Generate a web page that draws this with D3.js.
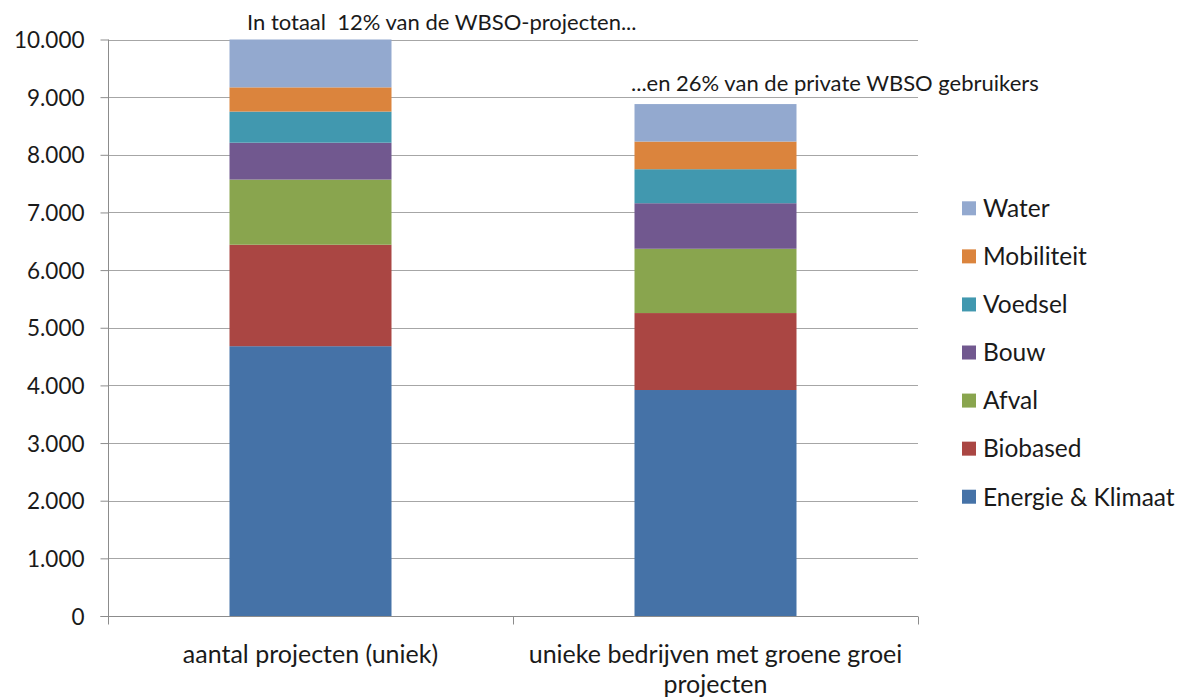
<!DOCTYPE html>
<html>
<head>
<meta charset="utf-8">
<script src="https://cdn.jsdelivr.net/npm/d3@7"></script>
<style>
  html, body { margin: 0; padding: 0; background: #fff; }
  svg text { font-family: Lato, "Open Sans", sans-serif; fill: #1a1a1a; }
</style>
</head>
<body>
<svg id="chart" width="1184" height="697"></svg>
<script>
// Data
const categories = ["aantal projecten (uniek)", "unieke bedrijven met groene groei projecten"];
const categoryLines = [["aantal projecten (uniek)"], ["unieke bedrijven met groene groei", "projecten"]];
const seriesNames = ["Energie & Klimaat", "Biobased", "Afval", "Bouw", "Voedsel", "Mobiliteit", "Water"];
const energie    = [4680, 3920];
const biobased   = [1760, 1335];
const afval      = [1130, 1115];
const bouw       = [640, 790];
const voedsel    = [540, 590];
const mobiliteit = [420, 480];
const water      = [830, 650];
const yTicks = [0, 1000, 2000, 3000, 4000, 5000, 6000, 7000, 8000, 9000, 10000];
const annotations = ["In totaal  12% van de WBSO-projecten...", "...en 26% van de private WBSO gebruikers"];
const colors = ["#4572A7", "#AA4643", "#89A54E", "#71588F", "#4198AF", "#DB843D", "#93A9CF"];

const seriesValues = [energie, biobased, afval, bouw, voedsel, mobiliteit, water];
const rows = categories.map((c, i) => {
  const r = { cat: c };
  seriesNames.forEach((s, j) => r[s] = seriesValues[j][i]);
  return r;
});

const svg = d3.select("#chart");
const plot = { left: 108, right: 918, top: 39.5, bottom: 616 };

const x = d3.scaleBand().domain(categories).range([plot.left, plot.right]).paddingInner(0.6).paddingOuter(0.3);
const y = d3.scaleLinear().domain([0, 10000]).range([plot.bottom, plot.top]);

// gridlines
svg.append("g").selectAll("line").data(yTicks.filter(d => d > 0)).join("line")
  .attr("x1", plot.left).attr("x2", plot.right)
  .attr("y1", d => Math.round(y(d)) + 0.5).attr("y2", d => Math.round(y(d)) + 0.5)
  .attr("stroke", "#a6a6a6").attr("stroke-width", 1);

// stacked bars
const stack = d3.stack().keys(seriesNames)(rows);
svg.append("g").selectAll("g").data(stack).join("g")
  .attr("fill", (d, i) => colors[i])
  .selectAll("rect").data(d => d).join("rect")
  .attr("x", d => x(d.data.cat))
  .attr("width", x.bandwidth())
  .attr("y", d => y(d[1]))
  .attr("height", d => y(d[0]) - y(d[1]));

// y axis
const yAxis = d3.axisLeft(y).tickValues(yTicks).tickSize(8).tickPadding(16)
  .tickFormat(d => d3.format(",")(d).replace(/,/g, "."));
const ya = svg.append("g").attr("transform", `translate(${plot.left + 0.5},0)`).call(yAxis);
ya.select(".domain").attr("stroke", "#8c8c8c").attr("d", `M-8,${plot.bottom}.5H0V${plot.top}`);
ya.selectAll(".tick line").attr("stroke", "#8c8c8c");
ya.selectAll(".tick text").style("font-size", "22.5px").style("font-family", "Lato, sans-serif").attr("fill", "#1a1a1a").attr("dy", "0.36em");

// x axis
const xa = svg.append("g").attr("transform", `translate(0,${plot.bottom + 0.5})`);
xa.append("line").attr("x1", plot.left).attr("x2", plot.right).attr("stroke", "#8c8c8c");
const boundaries = [plot.left, (x(categories[0]) + x.bandwidth() + x(categories[1])) / 2, plot.right];
xa.selectAll("line.tk").data(boundaries).join("line").attr("class", "tk")
  .attr("x1", d => Math.round(d) + 0.5).attr("x2", d => Math.round(d) + 0.5)
  .attr("y1", 0).attr("y2", 8).attr("stroke", "#8c8c8c");

categoryLines.forEach((lines, i) => {
  const cx = x(categories[i]) + x.bandwidth() / 2;
  lines.forEach((ln, k) => {
    svg.append("text").attr("x", cx).attr("y", 663 + k * 30)
      .attr("text-anchor", "middle").style("font-size", "25px").text(ln);
  });
});

// annotations
svg.append("text").attr("x", 247).attr("y", 30).style("font-size", "22px").style("white-space", "pre").text(annotations[0]);
svg.append("text").attr("x", 631).attr("y", 91).style("font-size", "22px").text(annotations[1]);

// legend
const legendOrder = seriesNames.map((s, i) => ({ s, c: colors[i] })).reverse();
const lg = svg.append("g").selectAll("g").data(legendOrder).join("g")
  .attr("transform", (d, i) => `translate(962,${208.3 + i * 48.07})`);
lg.append("rect").attr("x", 0).attr("y", -7).attr("width", 14).attr("height", 14).attr("fill", d => d.c);
lg.append("text").attr("x", 21).attr("y", 0).attr("dy", "0.36em").style("font-size", "24.5px").text(d => d.s);
</script>
</body>
</html>
